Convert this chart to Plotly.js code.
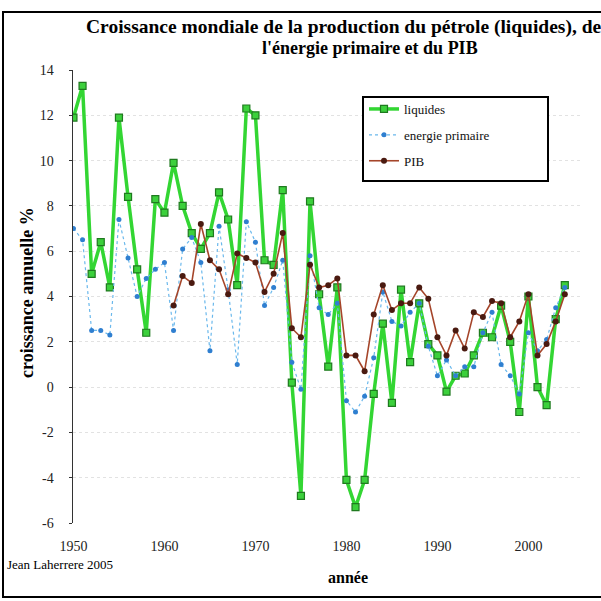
<!DOCTYPE html>
<html>
<head>
<meta charset="utf-8">
<script src="https://cdn.plot.ly/plotly-3.0.1.min.js"></script>
<style>html,body{margin:0;padding:0;background:#fff;}#chart{width:601px;height:601px;}</style>
</head>
<body>
<div id="chart"></div>
<script>
const years = [1950,1951,1952,1953,1954,1955,1956,1957,1958,1959,
  1960,1961,1962,1963,1964,1965,1966,1967,1968,1969,
  1970,1971,1972,1973,1974,1975,1976,1977,1978,1979,
  1980,1981,1982,1983,1984,1985,1986,1987,1988,1989,
  1990,1991,1992,1993,1994,1995,1996,1997,1998,1999,
  2000,2001,2002,2003,2004];

const liquides = [11.9,13.3,5.0,6.4,4.4,11.9,8.4,5.2,2.4,8.3,
  7.7,9.9,8.0,6.8,6.1,6.8,8.6,7.4,4.5,12.3,
  12.0,5.6,5.4,8.7,0.2,-4.8,8.2,4.1,0.9,4.4,
  -4.1,-5.3,-4.1,-0.3,2.8,-0.7,4.3,1.1,3.7,1.9,
  1.4,-0.2,0.5,0.6,1.4,2.4,2.2,3.6,2.0,-1.1,
  4.0,0.0,-0.8,3.0,4.5];

const energie = [7.0,6.5,2.5,2.5,2.3,7.4,5.7,4.0,4.8,5.2,
  5.5,2.5,6.1,6.6,5.5,1.6,7.1,4.3,1.0,7.3,
  6.4,3.6,4.4,5.6,1.1,-0.1,5.8,3.5,3.2,3.7,
  -0.6,-1.1,-0.4,1.3,4.2,2.9,2.7,3.3,3.7,1.8,
  0.5,1.2,0.5,0.9,0.9,2.4,3.3,1.0,0.5,-0.3,
  2.4,1.6,2.1,3.5,4.4];

const pib = [null,null,null,null,null,null,null,null,null,null,
  null,3.6,4.9,4.6,7.2,5.6,5.2,4.1,5.9,5.7,
  5.5,4.2,5.0,6.8,2.6,2.2,5.4,4.4,4.5,4.8,
  1.4,1.4,0.7,3.2,4.5,3.4,3.7,3.7,4.4,3.9,
  2.2,1.4,2.5,1.7,3.3,3.1,3.8,3.7,2.2,2.9,
  4.1,1.4,1.9,2.9,4.1];

const seriesNames = ['liquides','energie primaire','PIB'];
const xTickVals = [1950,1960,1970,1980,1990,2000];
const xTickText = ['1950','1960','1970','1980','1990','2000'];
const yTickVals = [-6,-4,-2,0,2,4,6,8,10,12,14];
const yTickText = ['-6','-4','-2','0','2','4','6','8','10','12','14'];

const serif = 'Liberation Serif, Times New Roman, serif';

// pixel helpers for annotations / shapes (plot area: x 73..583, y 70..523)
const L = 73, R = 583, T = 70, B = 523;
const px = v => (v - L) / (R - L);
const py = v => (B - v) / (B - T);

const traces = [
  {x: years, y: liquides, name: seriesNames[0], type: 'scatter', mode: 'lines+markers',
   legendgroup: 'a',
   line: {color: '#33d633', width: 3.5},
   marker: {symbol: 'square', size: 7, color: '#3cd03c', line: {color: '#1f7a1f', width: 1.2}}},
  {x: years, y: energie, name: seriesNames[1], type: 'scatter', mode: 'lines+markers',
   legendgroup: 'b',
   line: {color: '#6ab8ec', width: 1.2, dash: 'dot'},
   marker: {symbol: 'circle', size: 5, color: '#2f7fd0'}},
  {x: years, y: pib, name: seriesNames[2], type: 'scatter', mode: 'lines+markers',
   legendgroup: 'c', connectgaps: false,
   line: {color: '#a5452a', width: 1.6},
   marker: {symbol: 'circle', size: 6, color: '#4a1a10'}}
];

const layout = {
  width: 601, height: 601,
  margin: {l: L, r: 601 - R, t: T, b: 601 - B},
  paper_bgcolor: '#ffffff', plot_bgcolor: '#ffffff',
  showlegend: true,
  legend: {
    x: px(364), y: py(94), xanchor: 'left', yanchor: 'top',
    bgcolor: 'rgba(0,0,0,0)', borderwidth: 0,
    font: {family: serif, size: 13, color: '#111'},
    tracegroupgap: 6
  },
  xaxis: {
    range: [1949.95, 2006], showgrid: false, zeroline: false, showline: false,
    tickmode: 'array', tickvals: xTickVals, ticktext: xTickText,
    ticks: '', ticklabelstandoff: 13,
    tickfont: {family: serif, size: 14, color: '#222'}
  },
  yaxis: {
    range: [-6, 14], zeroline: false,
    showline: true, linecolor: '#333', linewidth: 1.5,
    tickmode: 'array', tickvals: yTickVals, ticktext: yTickText,
    ticks: 'outside', ticklen: 3, tickcolor: '#333',
    ticklabelstandoff: 12,
    showgrid: true, gridcolor: '#e2e2e2', griddash: 'dot', gridwidth: 1,
    tickfont: {family: serif, size: 14, color: '#222'}
  },
  shapes: [
    {type: 'rect', xref: 'paper', yref: 'paper',
     x0: px(3), x1: px(640), y0: py(597), y1: py(12),
     line: {color: '#000', width: 2}, fillcolor: 'rgba(0,0,0,0)', layer: 'below'},
    {type: 'rect', xref: 'paper', yref: 'paper',
     x0: px(363), x1: px(548), y0: py(181), y1: py(97),
     line: {color: '#000', width: 2}, fillcolor: '#ffffff', layer: 'above'}
  ],
  annotations: [
    {text: '<b>Croissance mondiale de la production du pétrole (liquides), de</b>',
     xref: 'paper', yref: 'paper', x: px(84), y: py(27), xanchor: 'left', yanchor: 'middle',
     showarrow: false, font: {family: serif, size: 19.5, color: '#000'}},
    {text: "<b>l'énergie primaire et du PIB</b>",
     xref: 'paper', yref: 'paper', x: px(370), y: py(48), xanchor: 'center', yanchor: 'middle',
     showarrow: false, font: {family: serif, size: 18, color: '#000'}},
    {text: '<b>croissance annuelle %</b>',
     xref: 'paper', yref: 'paper', x: px(27), y: py(293), xanchor: 'center', yanchor: 'middle',
     textangle: -90, showarrow: false, font: {family: serif, size: 18, color: '#000'}},
    {text: '<b>année</b>',
     xref: 'paper', yref: 'paper', x: px(348), y: py(577), xanchor: 'center', yanchor: 'middle',
     showarrow: false, font: {family: serif, size: 16, color: '#000'}},
    {text: 'Jean Laherrere 2005',
     xref: 'paper', yref: 'paper', x: px(5), y: py(564), xanchor: 'left', yanchor: 'middle',
     showarrow: false, font: {family: serif, size: 13, color: '#000'}}
  ]
};

Plotly.newPlot('chart', traces, layout, {displayModeBar: false, staticPlot: true});
</script>
</body>
</html>
